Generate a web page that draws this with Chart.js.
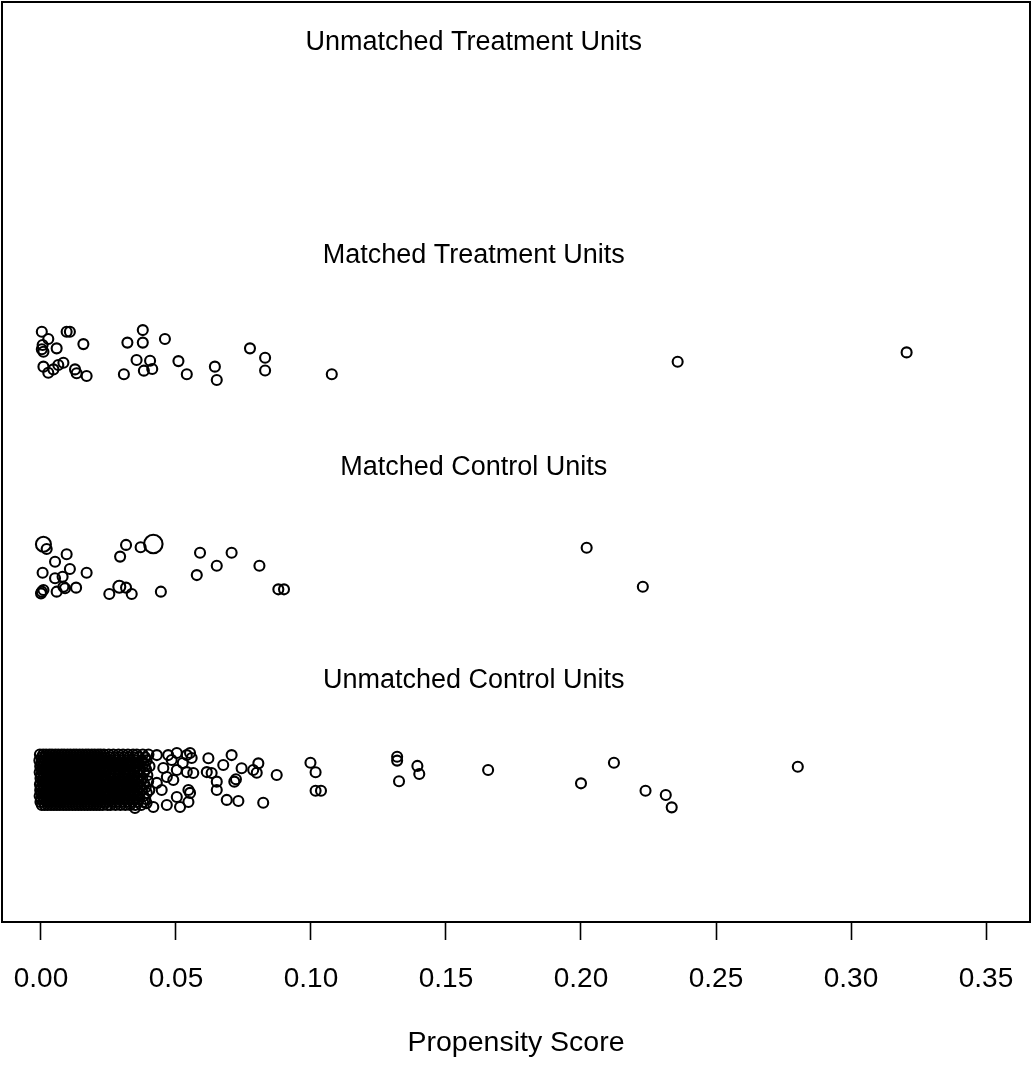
<!DOCTYPE html>
<html>
<head>
<meta charset="utf-8">
<script src="https://cdn.jsdelivr.net/npm/chart.js@4.4.1/dist/chart.umd.min.js"></script>
<style>
  html, body { margin: 0; padding: 0; background: #fff; }
  #c { display: block; }
</style>
</head>
<body>
<canvas id="c" width="1031" height="1065"></canvas>
<script>
// ---- data ---------------------------------------------------------------
// Propensity scores (x) and jittered row positions (y) for each group.
// Rows: 1 = unmatched control, 2 = matched control, 3 = matched treatment, 4 = unmatched treatment.

const groupLabels = ["Unmatched Treatment Units", "Matched Treatment Units", "Matched Control Units", "Unmatched Control Units"];
const groupLabelRows = [4.475, 3.475, 2.475, 1.475];
const labelScore = 0.1603;

const xTicks = [0.00, 0.05, 0.10, 0.15, 0.20, 0.25, 0.30, 0.35];

const mtScore = [0.0003, 0.0027, 0.0095, 0.0107, 0.0157, 0.0006, 0.0003, 0.0009, 0.0058, 0.0009,
                 0.0027, 0.0046, 0.0064, 0.0083, 0.0126, 0.0132, 0.0169, 0.0320, 0.0377, 0.0377,
                 0.0459, 0.0354, 0.0404, 0.0381, 0.0412, 0.0307, 0.0509, 0.0540, 0.0644, 0.0651,
                 0.0774, 0.0830, 0.0830, 0.1077, 0.2358, 0.3206];
const mtRow   = [3.114, 3.080, 3.114, 3.114, 3.056, 3.052, 3.032, 3.020, 3.036, 2.950,
                 2.921, 2.937, 2.958, 2.968, 2.937, 2.919, 2.906, 3.063, 3.122, 3.063,
                 3.080, 2.981, 2.978, 2.931, 2.939, 2.914, 2.976, 2.914, 2.950, 2.887,
                 3.036, 2.992, 2.932, 2.914, 2.973, 3.017];

const mcScore = [0.0009, 0.0021, 0.0095, 0.0052, 0.0006, 0.0107, 0.0052, 0.0080, 0.0169, 0.0003,
                 0.0009, 0.0000, 0.0058, 0.0083, 0.0089, 0.0130, 0.0315, 0.0369, 0.0416, 0.0293,
                 0.0253, 0.0290, 0.0315, 0.0336, 0.0444, 0.0589, 0.0706, 0.0651, 0.0577, 0.0809,
                 0.0879, 0.0900, 0.2021, 0.2229];
const mcRow   = [2.114, 2.092, 2.067, 2.032, 1.980, 1.998, 1.954, 1.961, 1.980, 1.891,
                 1.899, 1.883, 1.891, 1.914, 1.907, 1.910, 2.111, 2.100, 2.115, 2.056,
                 1.880, 1.914, 1.910, 1.880, 1.891, 2.074, 2.074, 2.013, 1.969, 2.013,
                 1.902, 1.902, 2.098, 1.914];
// Matching weights set the symbol size of each matched control.
const mcWeight = [1.5, 1, 1, 1, 1, 1, 1, 1, 1, 1,
                  1, 1, 1, 1, 1, 1, 1, 1, 1.85, 1,
                  1, 1.2, 1, 1, 1, 1, 1, 1, 1, 1,
                  1, 1, 1, 1];

// Unmatched controls crowded near zero: one entry per jitter row,
// scores given in units of 1e-4.
const ucDenseRow = [1.125, 1.111, 1.097, 1.083, 1.069, 1.055, 1.041, 1.027, 1.013,
                    0.999, 0.985, 0.971, 0.957, 0.943, 0.929, 0.915, 0.901, 0.887];
const ucDenseScore = [
  [-4,8,19,31,41,53,64,76,86,98,109,121,131,143,154,166,176,188,199,211,221,233,251,268,287,304,322,341,355,377,398],
  [2,13,25,35,47,58,70,80,92,103,115,125,137,148,160,170,182,193,205,215,227,239,256,274,291,309,327,345,362,386],
  [-6,5,16,28,39,50,62,73,84,95,107,118,129,141,152,163,174,186,197,208,219,231,246,262,281,298,316,333,352,372,391],
  [1,11,22,34,45,56,67,78,90,101,112,123,135,146,157,168,180,191,202,213,225,237,253,270,289,305,324,342,361,380],
  [-3,7,19,30,42,52,64,75,87,97,109,120,132,142,154,165,177,187,199,210,222,233,249,266,284,301,319,336,355,384,402],
  [3,14,24,36,47,59,69,81,92,104,114,126,137,149,159,171,182,194,204,216,227,241,257,275,292,311,328,347,366,389],
  [-5,6,17,29,40,51,62,74,85,96,107,119,130,141,152,164,175,186,197,209,220,232,252,269,287,306,324,344,363,381],
  [0,12,22,33,45,56,68,78,89,101,112,124,134,146,157,168,179,191,202,213,225,236,255,273,291,309,327,346,367,394],
  [-2,9,20,31,43,54,65,76,88,99,110,121,133,144,155,166,178,189,200,211,223,235,249,267,285,302,320,338,356,375],
  [4,15,26,37,48,60,71,82,93,104,116,127,138,149,161,172,183,194,205,217,228,240,258,276,293,311,330,349,370,397],
  [-4,7,18,29,41,52,63,74,86,97,108,119,131,142,153,164,176,187,198,209,221,233,250,268,286,304,322,341,360,383],
  [1,12,23,35,46,57,68,80,91,102,113,125,136,147,158,170,181,192,203,215,226,238,254,272,290,308,327,346,365,388],
  [-3,8,20,31,42,53,65,76,87,98,110,121,132,143,155,166,177,188,200,211,222,234,247,265,283,300,318,336,355,374,401],
  [2,14,25,36,47,59,70,81,92,104,115,126,137,149,160,171,182,194,205,216,228,243,256,274,292,310,328,347,366,392],
  [-5,6,17,28,40,51,62,73,85,96,107,118,130,141,152,163,175,186,197,208,220,231,251,269,287,305,323,342,361,380],
  [0,11,22,33,45,56,67,78,90,101,112,123,135,146,157,168,180,191,202,213,225,238,255,273,291,309,326,345,364,386],
  [-2,9,21,32,43,55,66,77,88,100,111,122,134,145,156,167,179,190,201,212,224,235,249,267,285,303,321,339,357,378],
  [3,14,25,37,48,59,70,82,93,104,116,127,138,149,161,172,183,195,206,217,229,246,258,276,294,312,330,349,371]
];

// Remaining unmatched controls.
const ucScore = [0.0429, 0.0471, 0.0503, 0.0540, 0.0552, 0.0484, 0.0525, 0.0558, 0.0453, 0.0503,
                 0.0540, 0.0564, 0.0466, 0.0490, 0.0429, 0.0447, 0.0503, 0.0546, 0.0552, 0.0546,
                 0.0515, 0.0466, 0.0416, 0.0391, 0.0348, 0.0614, 0.0632, 0.0620, 0.0675, 0.0706,
                 0.0743, 0.0722, 0.0716, 0.0786, 0.0805, 0.0799, 0.0873, 0.0651, 0.0651, 0.0688,
                 0.0731, 0.0823, 0.0998, 0.1017, 0.1017, 0.1037, 0.1319, 0.1319, 0.1326, 0.1394,
                 0.1401, 0.1656, 0.2000, 0.2122, 0.2239, 0.2314, 0.2336, 0.2803];
const ucRow   = [1.122, 1.122, 1.132, 1.122, 1.132, 1.099, 1.085, 1.108, 1.061, 1.052,
                 1.042, 1.038, 1.019, 1.005, 0.991, 0.958, 0.925, 0.958, 0.944, 0.901,
                 0.878, 0.887, 0.878, 0.896, 0.873, 1.042, 1.038, 1.107, 1.075, 1.122,
                 1.060, 1.008, 0.997, 1.052, 1.083, 1.039, 1.028, 0.997, 0.958, 0.911,
                 0.906, 0.898, 1.086, 1.041, 0.954, 0.954, 1.114, 1.096, 0.999, 1.071,
                 1.033, 1.052, 0.989, 1.086, 0.954, 0.934, 0.876, 1.067];

// ---- drawing --------------------------------------------------------------
const FONT = "'Liberation Sans', Arial, Helvetica, sans-serif";
const X_MIN = -0.014444, X_MAX = 0.366296;
const Y_MIN = 0.33647, Y_MAX = 4.6659;
const POINT_R = 5.0;
const POINT_LW = 2.1;

const pairs = (xs, ys) => xs.map((x, i) => ({ x: x, y: ys[i] }));

const ucPoints = [];
ucDenseScore.forEach((row, r) => row.forEach(s => ucPoints.push({ x: s / 10000, y: ucDenseRow[r] })));
ucPoints.push(...pairs(ucScore, ucRow));

const frameAndLabels = {
  id: 'frameAndLabels',
  beforeDraw(chart) {
    const ctx = chart.ctx;
    ctx.save();
    ctx.fillStyle = '#fff';
    ctx.fillRect(0, 0, chart.width, chart.height);
    ctx.restore();
  },
  afterDatasetsDraw(chart) {
    const { ctx, chartArea: a, scales } = chart;
    ctx.save();
    ctx.strokeStyle = '#000';
    ctx.lineWidth = 2;
    ctx.strokeRect(a.left, a.top, a.right - a.left, a.bottom - a.top);
    ctx.fillStyle = '#000';
    ctx.font = "27px " + FONT;
    ctx.textAlign = 'center';
    ctx.textBaseline = 'middle';
    const lx = scales.x.getPixelForValue(labelScore);
    groupLabels.forEach((t, i) => ctx.fillText(t, lx, scales.y.getPixelForValue(groupLabelRows[i])));
    ctx.restore();
  }
};

const pointStyle = {
  showLine: false,
  pointStyle: 'circle',
  pointBorderColor: '#000',
  pointBackgroundColor: 'rgba(0,0,0,0)',
  pointBorderWidth: POINT_LW,
  pointHoverRadius: POINT_R,
  pointHoverBorderWidth: POINT_LW
};

new Chart(document.getElementById('c'), {
  type: 'scatter',
  data: {
    datasets: [
      Object.assign({ label: 'Unmatched Control Units', data: ucPoints, pointRadius: POINT_R }, pointStyle),
      Object.assign({ label: 'Matched Control Units', data: pairs(mcScore, mcRow),
                      pointRadius: c => POINT_R * mcWeight[c.dataIndex] }, pointStyle),
      Object.assign({ label: 'Matched Treatment Units', data: pairs(mtScore, mtRow), pointRadius: POINT_R }, pointStyle)
    ]
  },
  options: {
    responsive: false,
    animation: false,
    devicePixelRatio: 1,
    layout: { padding: { left: 2, right: 1, top: 2, bottom: 0 }, autoPadding: false },
    plugins: { legend: { display: false }, tooltip: { enabled: false } },
    events: [],
    scales: {
      x: {
        type: 'linear',
        min: X_MIN,
        max: X_MAX,
        afterBuildTicks: s => { s.ticks = xTicks.map(v => ({ value: v })); },
        // fixed axis band below the frame; the end labels fit inside, so no side padding
        afterFit: s => { s.height = 143; s.paddingLeft = 0; s.paddingRight = 0; },
        ticks: {
          callback: v => Number(v).toFixed(2),
          font: { family: FONT, size: 28 },
          color: '#000',
          padding: 22,
          maxRotation: 0,
          autoSkip: false
        },
        grid: {
          display: true,
          drawOnChartArea: false,
          drawTicks: true,
          tickLength: 18,
          tickWidth: 1.6,
          tickColor: '#000'
        },
        border: { display: false },
        title: {
          display: true,
          text: 'Propensity Score',
          font: { family: FONT, size: 28.5 },
          color: '#000',
          padding: { top: 0, bottom: 5 }
        }
      },
      y: {
        type: 'linear',
        display: false,
        min: Y_MIN,
        max: Y_MAX
      }
    }
  },
  plugins: [frameAndLabels]
});
</script>
</body>
</html>
